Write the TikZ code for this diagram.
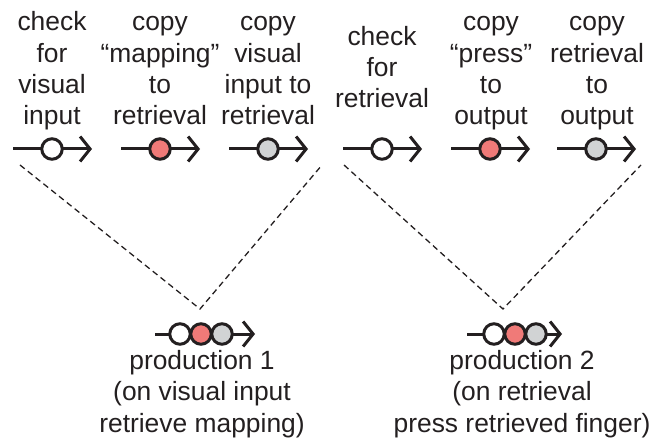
\documentclass[tikz,border=0pt]{standalone}
\usepackage{fontspec}
\setmainfont{Liberation Sans}
\usetikzlibrary{arrows.meta}
\definecolor{ink}{HTML}{231F20}
\definecolor{redfill}{HTML}{F07A78}
\definecolor{greyfill}{HTML}{D1D3D4}
\begin{document}
\begin{tikzpicture}[x=1bp,y=-1bp,
  lbl/.style={align=center,anchor=base,text=ink,inner sep=0pt,
    font=\fontsize{26.5}{31.5}\selectfont},
  gline/.style={draw=ink,line width=3bp,-{Straight Barb[length=10bp,width=25bp]}},
  dot/.style={circle,draw=ink,line width=3bp,minimum size=20.5bp,inner sep=0pt},
  wdot/.style={dot,fill=white},
  rdot/.style={dot,fill=redfill},
  gdot/.style={dot,fill=greyfill},
  vline/.style={draw=ink,line width=1.3bp,dash pattern=on 6bp off 4bp}]
\useasboundingbox (0,0) rectangle (663,438);
% top labels (anchor = baseline of last line)
\node[lbl] (t1) at (52,125) {check\\for\\visual\\input};
\node[lbl] (t2) at (160,125) {copy\\“mapping”\\to\\retrieval};
\node[lbl] (t3) at (268,125) {copy\\visual\\input to\\retrieval};
\node[lbl] (t4) at (382,108) {check\\for\\retrieval};
\node[lbl] (t5) at (491,125) {copy\\“press”\\to\\output};
\node[lbl] (t6) at (597,125) {copy\\retrieval\\to\\output};
% top glyphs
\foreach \n/\cx/\st in {1/52/wdot,2/160/rdot,3/268/gdot,4/382/wdot,5/490/rdot,6/596/gdot}{
  \coordinate (s\n) at (\cx-39,149);
  \coordinate (e\n) at (\cx+40,149);
  \draw[gline] (s\n) -- (e\n);
  \node[\st] (c\n) at (\cx,149) {};
}
% dashed lines
\coordinate (a1) at (200,309);
\coordinate (a2) at (503,309);
\coordinate (l1) at (20,165);
\coordinate (r1) at (322,165);
\coordinate (l2) at (344,165);
\coordinate (r2) at (641,165);
\draw[vline] (l1) -- (a1) -- (r1);
\draw[vline] (l2) -- (a2) -- (r2);
% bottom glyphs
\coordinate (ps1) at (155,334);
\coordinate (pe1) at (255,334);
\draw[gline] (ps1) -- (pe1);
\node[wdot] (p1a) at (180,334) {};
\node[rdot] (p1b) at (201,334) {};
\node[gdot] (p1c) at (222,334) {};
\coordinate (ps2) at (467,334);
\coordinate (pe2) at (562,334);
\draw[gline] (ps2) -- (pe2);
\node[wdot] (p2a) at (494,334) {};
\node[rdot] (p2b) at (515,334) {};
\node[gdot] (p2c) at (536,334) {};
% bottom labels
\node[lbl] (b1) at (202,432) {production 1\\(on visual input\\retrieve mapping)};
\node[lbl] (b2) at (522,432) {production 2\\(on retrieval\\press retrieved finger)};
\end{tikzpicture}
\end{document}
